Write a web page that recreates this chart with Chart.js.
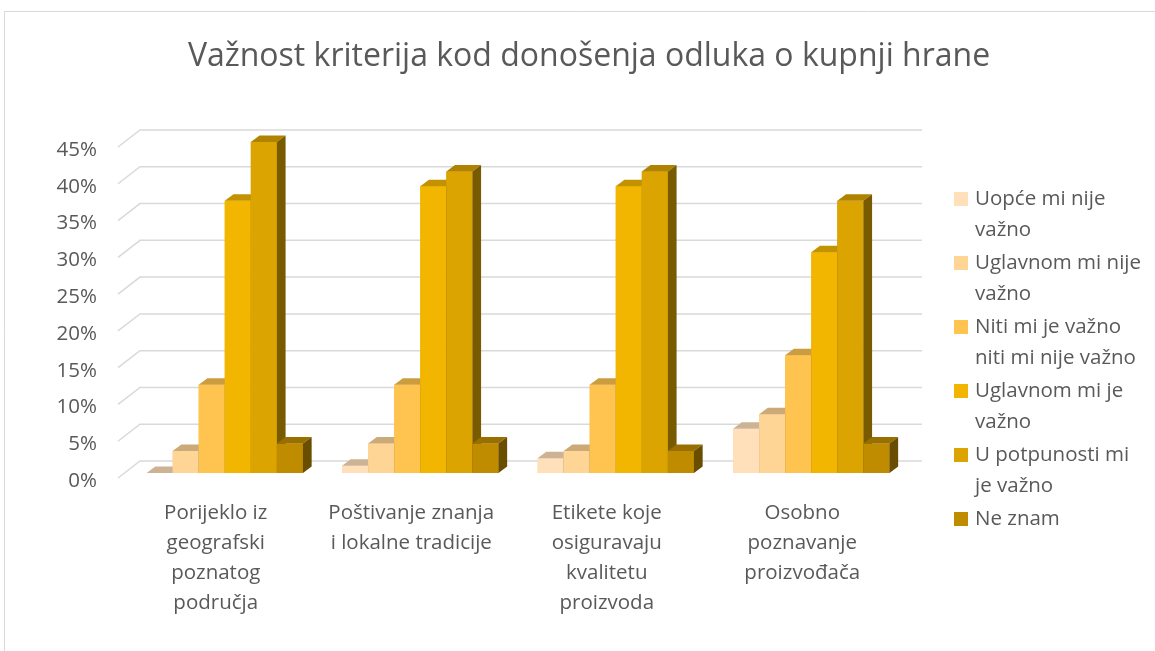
<!DOCTYPE html>
<html><head><meta charset="utf-8">
<script src="https://cdn.jsdelivr.net/npm/chart.js@4.4.0/dist/chart.umd.min.js"></script>
<style>html,body{margin:0;padding:0;background:#fff;overflow:hidden}#wrap{position:relative;width:1155px;height:651px}</style>
</head><body><div id="wrap"><canvas id="c" width="1155" height="651"></canvas></div>
<script>
const chartTitle = 'Važnost kriterija kod donošenja odluka o kupnji hrane';
const categories = [
  ['Porijeklo iz', 'geografski', 'poznatog', 'područja'],
  ['Poštivanje znanja', 'i lokalne tradicije'],
  ['Etikete koje', 'osiguravaju', 'kvalitetu', 'proizvoda'],
  ['Osobno', 'poznavanje', 'proizvođača']
];
const seriesNames = [
  ['Uopće mi nije', 'važno'],
  ['Uglavnom mi nije', 'važno'],
  ['Niti mi je važno', 'niti mi nije važno'],
  ['Uglavnom mi je', 'važno'],
  ['U potpunosti mi', 'je važno'],
  ['Ne znam']
];
const uopceMiNijeVazno = [0, 1, 2, 6];
const uglavnomMiNijeVazno = [3, 4, 3, 8];
const nitiMiJeVaznoNitiNije = [12, 12, 12, 16];
const uglavnomMiJeVazno = [37, 39, 39, 30];
const uPotpunostiMiJeVazno = [45, 41, 41, 37];
const neZnam = [4, 4, 3, 4];
const seriesValues = [uopceMiNijeVazno, uglavnomMiNijeVazno, nitiMiJeVaznoNitiNije, uglavnomMiJeVazno, uPotpunostiMiJeVazno, neZnam];
const yTicks = [0, 5, 10, 15, 20, 25, 30, 35, 40, 45];
const colors = ['#FFE0BA', '#FFD596', '#FFC44F', '#F2B600', '#DBA400', '#BF8C00'];

const FONT = '"Open Sans"';
const TXT = '#595959';
const DX = 22, DY = 17;   // back wall offset
const BX = 9, BY = 5;     // bar front face offset
const SX = 8.7, SY = 6.5; // bar depth

function shade(hex, f) {
  const n = parseInt(hex.slice(1), 16);
  const r = Math.round(((n >> 16) & 255) * f), g = Math.round(((n >> 8) & 255) * f), b = Math.round((n & 255) * f);
  return `rgb(${r},${g},${b})`;
}

const threeD = {
  id: 'threeD',
  beforeDraw(chart) {
    const ctx = chart.ctx;
    ctx.save();
    ctx.strokeStyle = '#D9D9D9'; ctx.lineWidth = 1;
    ctx.beginPath(); ctx.moveTo(4.5, 651); ctx.lineTo(4.5, 11.5); ctx.lineTo(1155, 11.5); ctx.stroke();
    ctx.font = `32px ${FONT}`; ctx.fillStyle = TXT; ctx.textAlign = 'center'; ctx.textBaseline = 'middle';
    ctx.fillText(chartTitle, 589, 57);
    ctx.restore();
  },
  beforeDatasetsDraw(chart) {
    const ctx = chart.ctx, ys = chart.scales.y, a = chart.chartArea;
    ctx.save();
    ctx.strokeStyle = '#D9D9D9'; ctx.lineWidth = 1.5;
    yTicks.forEach(v => {
      const y = ys.getPixelForValue(v);
      ctx.beginPath();
      ctx.moveTo(a.left, y); ctx.lineTo(a.left + DX, y - DY); ctx.lineTo(a.right + DX, y - DY);
      ctx.stroke();
    });
    ctx.restore();
  },
  beforeDatasetDraw(chart) { chart.ctx.save(); chart.ctx.translate(BX, -BY); },
  afterDatasetDraw(chart) { chart.ctx.restore(); },
  afterDatasetsDraw(chart) {
    const ctx = chart.ctx;
    ctx.save();
    ctx.translate(BX, -BY);
    seriesValues.forEach((_, i) => {
      const col = colors[i];
      chart.getDatasetMeta(i).data.forEach(el => {
        const p = el.getProps(['x', 'y', 'base', 'width'], true);
        const l = p.x - p.width / 2, r = p.x + p.width / 2;
        ctx.fillStyle = col;
        ctx.fillRect(l, p.y, r - l, p.base - p.y);
        ctx.fillStyle = shade(col, 0.8);
        ctx.beginPath(); ctx.moveTo(l, p.y); ctx.lineTo(r, p.y); ctx.lineTo(r + SX, p.y - SY); ctx.lineTo(l + SX, p.y - SY); ctx.closePath(); ctx.fill();
        ctx.fillStyle = shade(col, 0.55);
        ctx.beginPath(); ctx.moveTo(r, p.y); ctx.lineTo(r + SX, p.y - SY); ctx.lineTo(r + SX, p.base - SY); ctx.lineTo(r, p.base); ctx.closePath(); ctx.fill();
      });
    });
    ctx.restore();
  },
  afterDraw(chart) {
    const ctx = chart.ctx;
    ctx.save();
    ctx.font = `20.5px ${FONT}`; ctx.textBaseline = 'middle';
    seriesNames.forEach((lines, i) => {
      const cy = 199 + 64 * i;
      ctx.fillStyle = colors[i];
      ctx.fillRect(954, cy - 7, 14, 14);
      ctx.fillStyle = TXT;
      lines.forEach((t, j) => ctx.fillText(t, 975, cy + 31 * j));
    });
    ctx.restore();
  }
};

const chart = new Chart(document.getElementById('c'), {
  type: 'bar',
  data: {
    labels: categories,
    datasets: seriesValues.map((d, i) => ({
      label: seriesNames[i].join(' '), data: d, backgroundColor: colors[i],
      borderWidth: 0, clip: false,
      categoryPercentage: 0.8, barPercentage: 1
    }))
  },
  options: {
    responsive: false, animation: false, events: [],
    layout: { padding: { left: 0, right: 255, top: 147, bottom: 0 } },
    plugins: { legend: { display: false }, tooltip: { enabled: false }, title: { display: false } },
    scales: {
      x: {
        grid: { display: false, drawTicks: false }, border: { display: false },
        ticks: { color: TXT, font: { family: 'Open Sans', size: 20.5, lineHeight: 1.46 }, padding: 20, maxRotation: 0, autoSkip: false },
        afterFit(s) { s.height = 173; }
      },
      y: {
        min: 0, max: 45,
        grid: { display: false, drawTicks: false }, border: { display: false },
        ticks: { color: TXT, font: { family: 'Open Sans', size: 20.5 }, padding: 21, stepSize: 5, labelOffset: 3, callback: v => v + '%' },
        afterFit(s) { s.width = 118; }
      }
    }
  },
  plugins: [threeD]
});
</script></body></html>
